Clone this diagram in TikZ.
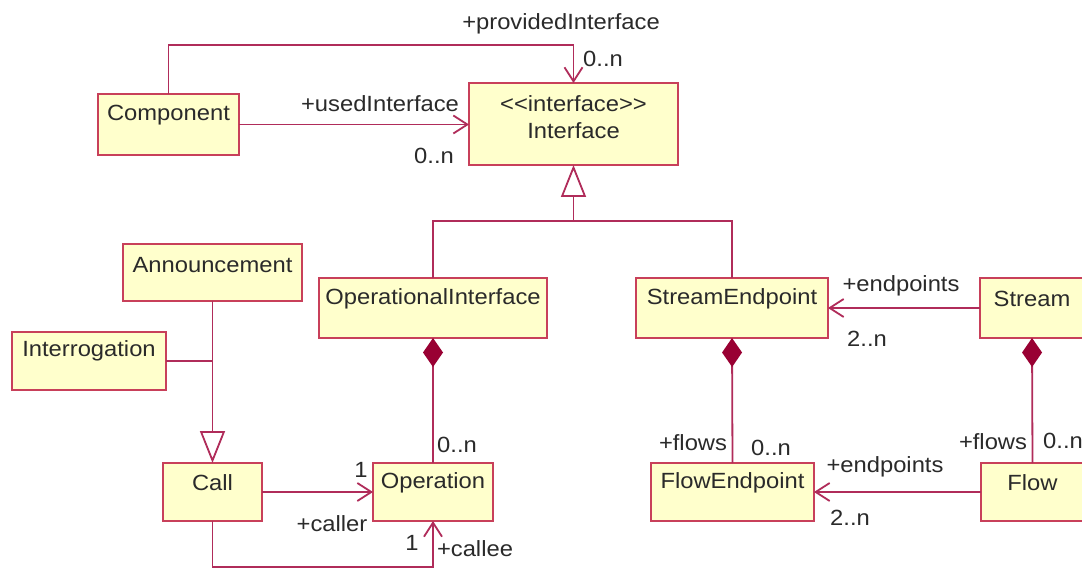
\documentclass[tikz,border=0pt]{standalone}
\usepackage{fontspec}
\usepackage{graphicx}
\setmainfont{Liberation Sans}
\usetikzlibrary{arrows.meta}
\definecolor{linec}{HTML}{B02C5A}
\definecolor{boxc}{HTML}{C8405A}
\definecolor{fillc}{HTML}{FFFFCC}
\definecolor{diamc}{HTML}{990033}
\definecolor{textc}{HTML}{2A2A2A}
\newcommand{\umlbox}[5]{\node[umlbox, minimum width={(#4-#2)*1pt}, minimum height={(#5-#3)*1pt}, anchor=north west] (#1) at (#2,#3) {};}
\newcommand{\tx}[1]{\scalebox{1.08}[1]{#1}}
\begin{document}
\begin{tikzpicture}[x=1pt,y=-1pt,
  umlbox/.style={draw=boxc, fill=fillc, line width=2.4pt, inner sep=0pt, outer sep=0pt},
  txt/.style={text=textc, font=\fontsize{22}{25}\selectfont, inner sep=0pt},
  lbl/.style={text=textc, font=\fontsize{22}{25}\selectfont, inner sep=0pt},
  conn/.style={draw=linec, line width=1.8pt},
  assoc/.style={conn, -{Straight Barb[length=14pt, width=18pt, line width=1.8pt]}},
  gen/.style={conn, -{Triangle[length=32pt, width=25pt, fill=white, line width=1.8pt]}},
  compo/.style={conn, {Diamond[length=29pt, width=20pt, fill=diamc, color=diamc]}-}
]
\useasboundingbox (0,0) rectangle (1082,569);
\clip (0,0) rectangle (1082,569);
\fill[white] (0,0) rectangle (1082,569);

% boxes
\umlbox{comp}{98}{94}{239}{155}
\umlbox{iface}{469}{83}{678}{165}
\umlbox{ann}{123}{244}{302}{301}
\umlbox{interr}{12}{332}{166}{390}
\umlbox{opif}{319}{278}{547}{338}
\umlbox{se}{636}{278}{828}{338}
\umlbox{stream}{980}{278}{1084}{338}
\umlbox{call}{163}{463}{262}{521}
\umlbox{op}{373}{463}{493}{521}
\umlbox{fe}{651}{463}{814}{521}
\umlbox{flow}{981}{463}{1084}{521}

% titles
\node[txt] (compT) at (168.5,115) {\tx{Component}};
\node[txt] (ifaceS) at (573.5,104) {\tx{{<}{<}interface{>}{>}}};
\node[txt] (ifaceT) at (573.5,131) {\tx{Interface}};
\node[txt] (annT) at (212.5,265) {\tx{Announcement}};
\node[txt] (interrT) at (89,351) {\tx{Interrogation}};
\node[txt] (opifT) at (433,299) {\tx{OperationalInterface}};
\node[txt] (seT) at (732,299) {\tx{StreamEndpoint}};
\node[txt] (streamT) at (1032,299) {\tx{Stream}};
\node[txt] (callT) at (212.5,483) {\tx{Call}};
\node[txt] (opT) at (433,483) {\tx{Operation}};
\node[txt] (feT) at (732.5,483) {\tx{FlowEndpoint}};
\node[txt] (flowT) at (1032.5,483) {\tx{Flow}};

% coordinates
\coordinate (pbend) at (573.5,45);
\coordinate (gj) at (573.5,221);
\coordinate (cbend) at (433,567);

% connectors
\draw[assoc] (comp.north) |- (pbend) -- (iface.north);
\draw[assoc] (comp.east) -- (iface.west |- comp.east);
\draw[conn] (opif.north) |- (se.north |- gj) -- (se.north);
\draw[gen] (gj) -- (iface.south);
\draw[conn] (interr.east) -- (interr.east -| ann.south);
\draw[gen] (ann.south) -- (call.north);
\draw[compo] (opif.south) -- (op.north);
\draw[compo] (se.south) -- (fe.north);
\draw[compo] (stream.south) -- (flow.north);
\draw[assoc] (call.east) -- (op.west);
\draw[assoc] (call.south) |- (cbend) -- (op.south);
\draw[assoc] (stream.west) -- (se.east);
\draw[assoc] (flow.west) -- (fe.east);

% labels
\node[lbl] (l1) at (561,24) {\tx{+providedInterface}};
\node[lbl] (l2) at (603,59) {\tx{0..n}};
\node[lbl] (l3) at (380,104) {\tx{+usedInterface}};
\node[lbl] (l4) at (434,156) {\tx{0..n}};
\node[lbl] (l5) at (457,445) {\tx{0..n}};
\node[lbl] (l6) at (361,470) {\tx{1}};
\node[lbl] (l7) at (332,524) {\tx{+caller}};
\node[lbl] (l8) at (412,543) {\tx{1}};
\node[lbl] (l9) at (475,549) {\tx{+callee}};
\node[lbl] (l10) at (901,286) {\tx{+endpoints}};
\node[lbl] (l11) at (867,339) {\tx{2..n}};
\node[lbl] (l12) at (693,443) {\tx{+flows}};
\node[lbl] (l13) at (771,448) {\tx{0..n}};
\node[lbl] (l14) at (885,467) {\tx{+endpoints}};
\node[lbl] (l15) at (850,518) {\tx{2..n}};
\node[lbl] (l16) at (993,442) {\tx{+flows}};
\node[lbl] (l17) at (1063,441) {\tx{0..n}};
\end{tikzpicture}
\end{document}
